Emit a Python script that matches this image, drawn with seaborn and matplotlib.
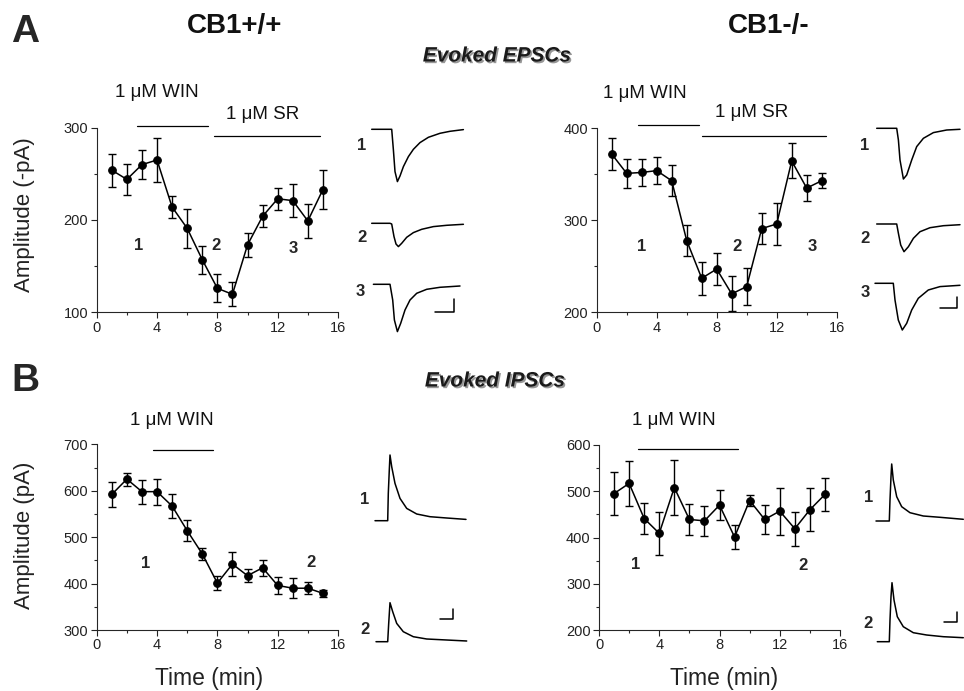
import numpy as np
import matplotlib
matplotlib.use("Agg")
import matplotlib.pyplot as plt
import matplotlib.patheffects as pe
from matplotlib.ticker import MultipleLocator
import seaborn as sns

# time points (min)
minutes = list(range(1, 16))

# evoked EPSCs (-pA), mean and sem
epsc_wt = [254, 244, 260, 265, 214, 191, 157, 126, 119.5, 173, 204, 223, 221, 199, 233]
epsc_wt_err = [18, 17, 16, 24, 12, 21, 15, 15, 13, 13, 12, 12, 18, 18, 21]
epsc_ko = [372, 351, 352, 354, 343, 278, 237, 247, 220, 228, 291, 296, 364.5, 335, 343]
epsc_ko_err = [17, 16, 15, 15, 17, 17, 18, 17, 19, 20, 17, 23, 19, 14, 8]

# evoked IPSCs (pA)
ipsc_wt = [592, 625, 598, 598, 567, 514, 464, 401, 442, 417, 434, 396, 390, 390, 379]
ipsc_wt_err = [27, 14, 26, 28, 25, 22, 13, 15, 25, 14, 17, 18, 22, 13, 8]
ipsc_ko = [495, 517, 441, 409, 508, 439, 436, 470, 401, 480, 439, 457, 419, 460, 493]
ipsc_ko_err = [47, 49, 33, 47, 60, 34, 32, 32, 26, 12, 32, 51, 37, 47, 35]

# drug application bars: (label, start min, end min, level)
drugs_a_wt = [("1 μM WIN", 2.65, 7.35, 301.5), ("1 μM SR", 7.79, 14.8, 290.5)]
drugs_a_ko = [("1 μM WIN", 2.73, 6.84, 403.6), ("1 μM SR", 7.04, 15.29, 392)]
drugs_b_wt = [("1 μM WIN", 3.71, 7.72, 688)]
drugs_b_ko = [("1 μM WIN", 2.57, 9.2, 591.5)]

# sample traces (time, amplitude in pixel units)
epsc_wt_tr_t = [[0, 20, 21.7, 23.3, 25.7, 28.3, 31.7, 36.7, 41.7, 48.3, 56.7, 68.3, 78.3, 91.7],
                [0, 18.3, 20, 22.3, 24.3, 26.7, 30, 35, 41.7, 50, 61.7, 75, 91.7],
                [1.7, 18.3, 21, 22.7, 25.7, 29, 33.3, 38.3, 45, 55, 68.3, 88.3]]
epsc_wt_tr_i = [[0, 0, -20.7, -42.3, -52.3, -46.7, -37.3, -27.3, -20, -13.3, -8, -4, -2, -0.3],
                [0, 0, -0.7, -13.3, -20.7, -23.3, -20, -14, -9.3, -6, -3.3, -2, -1],
                [0, 0, -15.7, -35.7, -47.3, -39, -25.7, -15.7, -9, -5, -3, -1.7]]
epsc_ko_tr_t = [[0, 20, 21.7, 23.3, 26.7, 30, 35, 40, 46.7, 56.7, 70, 83.3],
                [0, 20, 21.7, 24, 27.3, 31.7, 36.7, 43.3, 53.3, 66.7, 83.3],
                [0, 18.3, 20, 23.3, 27.3, 31.7, 36.7, 43.3, 53.3, 65, 85]]
epsc_ko_tr_i = [[0, 0, -11.7, -31.7, -50.7, -46.7, -31.7, -18.3, -10, -4.3, -1.7, -1],
                [0, 0, -9.3, -21, -27.7, -22.7, -14.3, -7.7, -3.7, -1.7, -0.7],
                [0, 0, -16.7, -36.7, -46.7, -40, -26.7, -15, -6.7, -3.3, -2]]
ipsc_wt_tr_t = [[0, 12.7, 13.3, 14.3, 15, 16.7, 20, 25, 31.7, 41.7, 55, 71.7, 91],
                [0, 11.7, 12.7, 14, 16.7, 20.7, 27.3, 37.3, 50.7, 70.7, 90.7]]
ipsc_wt_tr_i = [[0, 0, 27.3, 50.7, 65.7, 54, 37.3, 22.3, 12.3, 6.7, 4, 2.7, 1.3],
                [0, 0, 18.3, 39, 30, 18.3, 10, 5, 2.7, 1.7, 0.7]]
ipsc_ko_tr_t = [[0, 13.3, 14, 15, 15.7, 17.3, 20.7, 25.7, 34, 47.3, 64, 87.3],
                [0, 12, 12.7, 13.7, 14.7, 16.7, 20, 26, 36, 49.3, 66, 86]]
ipsc_ko_tr_i = [[0, 0, 21, 44.3, 57, 41, 24.3, 14.3, 8.3, 5, 3.7, 1.7],
                [0, 0, 21.7, 45, 59, 41.7, 25, 15, 9, 6.7, 5, 4]]

sns.set_style("ticks")
plt.rcParams['font.family'] = ['Liberation Sans', 'DejaVu Sans']
plt.rcParams['axes.linewidth'] = 0.8

W, H = 964, 691
fig = plt.figure(figsize=(W / 100, H / 100), dpi=100)


def px_rect(x0, x1, ytop, ybot):
    return [x0 / W, 1 - ybot / H, (x1 - x0) / W, (ybot - ytop) / H]


def time_course(rect, vals, errs, ylim, drugs, drug_txt, marks):
    ax = fig.add_axes(rect)
    sns.lineplot(x=minutes, y=vals, ax=ax, color='black', marker='o',
                 markersize=5.5, markeredgecolor='black', linewidth=1.1)
    ax.errorbar(minutes, vals, yerr=errs, fmt='none', ecolor='black',
                elinewidth=1, capsize=3.2, capthick=1)
    ax.set_xlim(0, 16)
    ax.set_ylim(*ylim)
    ax.xaxis.set_major_locator(MultipleLocator(4))
    ax.xaxis.set_minor_locator(MultipleLocator(2))
    ax.yaxis.set_major_locator(MultipleLocator(100))
    ax.yaxis.set_minor_locator(MultipleLocator(50))
    ax.tick_params(which='major', direction='out', length=4, width=0.8,
                   labelsize=10.5, pad=2, colors='#222222')
    ax.tick_params(which='minor', direction='out', length=2.5, width=0.8)
    sns.despine(ax=ax)
    for (lab, x0, x1, lev), (tx, ty) in zip(drugs, drug_txt):
        ax.plot([x0, x1], [lev, lev], color='black', lw=0.9, clip_on=False)
        ax.text(tx, ty, lab, fontsize=13.5, ha='center', va='center', color='#111111')
    for lab, x, y in marks:
        ax.text(x, y, lab, fontsize=12, fontweight='bold', ha='center', va='center')
    return ax


time_course(px_rect(96.7, 338, 127.7, 312.3), epsc_wt, epsc_wt_err, (100, 300),
            drugs_a_wt, [(4.0, 337.6), (11.03, 314.8)],
            [("1", 2.76, 172), ("2", 7.94, 172), ("3", 13.0, 169)])
time_course(px_rect(596.7, 836.7, 128.3, 312.3), epsc_ko, epsc_ko_err, (200, 400),
            drugs_a_ko, [(3.22, 437.3), (10.33, 417)],
            [("1", 3.0, 272), ("2", 9.38, 272), ("3", 14.4, 271)])
time_course(px_rect(96.7, 338, 444.3, 630), ipsc_wt, ipsc_wt_err, (300, 700),
            drugs_b_wt, [(4.97, 752)],
            [("1", 3.24, 444), ("2", 14.23, 446)])
time_course(px_rect(599, 840, 445, 630), ipsc_ko, ipsc_ko_err, (200, 600),
            drugs_b_ko, [(4.96, 654)],
            [("1", 2.43, 342), ("2", 13.56, 339)])

# overlay in pixel coordinates for traces and figure text
ov = fig.add_axes([0, 0, 1, 1])
ov.set_xlim(0, W)
ov.set_ylim(H, 0)
ov.set_facecolor('none')
ov.axis('off')


def traces(ts, amps, origins, scalebar, nums):
    for t, a, (x0, base) in zip(ts, amps, origins):
        ov.plot(np.array(t) + x0, base - np.array(a), color='black', lw=1.1)
    xc, yc, hl, vl = scalebar
    ov.plot([xc - hl, xc, xc], [yc, yc, yc - vl], color='black', lw=1.1)
    for lab, x, y in nums:
        ov.text(x, y, lab, fontsize=12, fontweight='bold', ha='center', va='center')


traces(epsc_wt_tr_t, epsc_wt_tr_i, [(371.7, 129.3), (371.7, 223.3), (371.7, 284.3)],
       (454, 311.7, 19, 12.3), [("1", 361.7, 145), ("2", 361.7, 237), ("3", 360, 291.5)])
traces(epsc_ko_tr_t, epsc_ko_tr_i, [(876.7, 128.3), (876.7, 224), (875, 283.3)],
       (957.3, 308.3, 17.3, 11.7), [("1", 865, 145), ("2", 865, 238), ("3", 865, 292.5)])
traces(ipsc_wt_tr_t, ipsc_wt_tr_i, [(375, 520.7), (376, 641.7)],
       (452.7, 619.3, 12.7, 10), [("1", 365, 499), ("2", 365, 629)])
traces(ipsc_ko_tr_t, ipsc_ko_tr_i, [(876, 521), (877.3, 641.7)],
       (956.7, 622.3, 12.7, 10.7), [("1", 868.3, 497), ("2", 868.3, 624)])

# headings and labels
ov.text(25, 32, "A", fontsize=28, fontweight='bold', ha='center', va='center')
ov.text(25, 381, "B", fontsize=28, fontweight='bold', ha='center', va='center')
ov.text(235, 26, "CB1+/+", fontsize=20, fontweight='bold', ha='center', va='center',
        color='#111111')
ov.text(769, 26, "CB1-/-", fontsize=20, fontweight='bold', ha='center', va='center',
        color='#111111')
shadow = [pe.withSimplePatchShadow(offset=(1.2, -1.2), shadow_rgbFace='0.55', alpha=0.9)]
ov.text(497, 56, "Evoked EPSCs", fontsize=15, fontweight='bold', style='italic',
        ha='center', va='center', color='#1a1a1a', path_effects=shadow)
ov.text(495, 381, "Evoked IPSCs", fontsize=15, fontweight='bold', style='italic',
        ha='center', va='center', color='#1a1a1a', path_effects=shadow)
ov.text(25, 215, "Amplitude (-pA)", fontsize=16, rotation=90, ha='center', va='center',
        color='#222222')
ov.text(25, 535, "Amplitude (pA)", fontsize=16, rotation=90, ha='center', va='center',
        color='#222222')
ov.text(209, 678, "Time (min)", fontsize=16.5, ha='center', va='center', color='#222222')
ov.text(724, 678, "Time (min)", fontsize=16.5, ha='center', va='center', color='#222222')

fig.savefig("out.png", dpi=100)
